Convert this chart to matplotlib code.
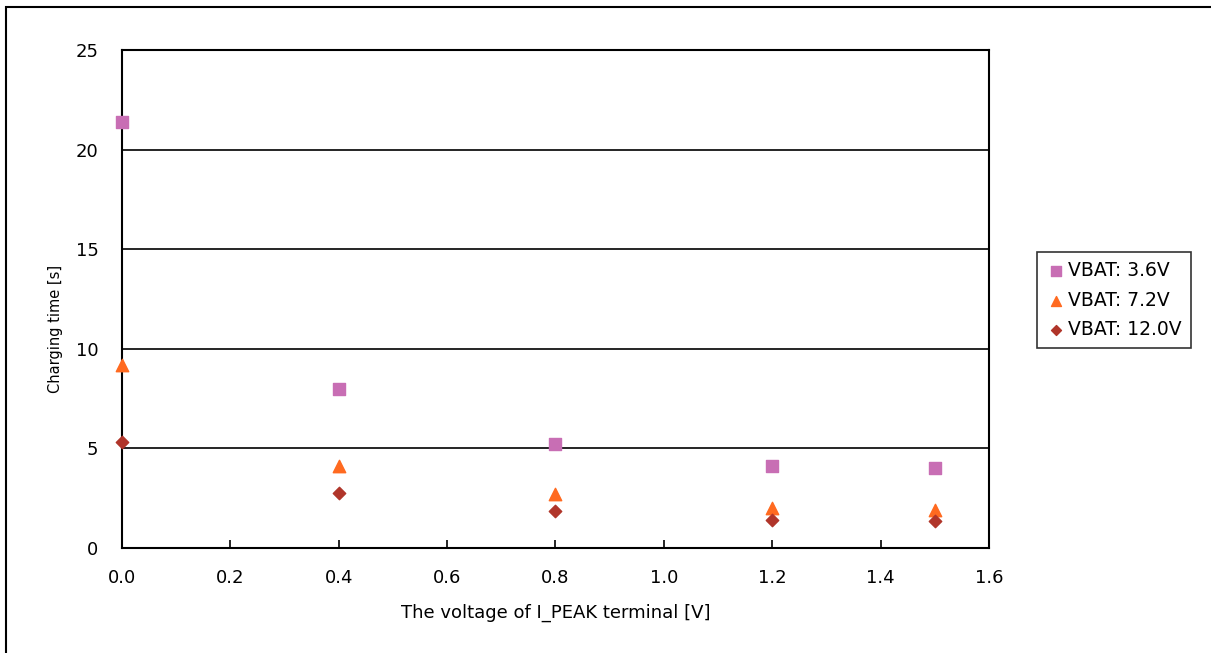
import numpy as np
import matplotlib.pyplot as plt
from matplotlib.patches import Rectangle

# data
x_vals = [0.0, 0.4, 0.8, 1.2, 1.5]
vbat_36 = [21.4, 8.0, 5.2, 4.1, 4.0]
vbat_72 = [9.2, 4.1, 2.7, 2.0, 1.9]
vbat_120 = [5.3, 2.75, 1.85, 1.4, 1.35]
labels = ['VBAT: 3.6V', 'VBAT: 7.2V', 'VBAT: 12.0V']

plt.rcParams['font.family'] = ['DejaVu Sans']

fig = plt.figure(figsize=(12.11, 6.53), dpi=100)
ax = fig.add_axes([122/1211, 1 - 548/653, (989-122)/1211, (548-50)/653])

ax.scatter(x_vals, vbat_36, marker='s', s=70, color='#C86EB4', label=labels[0], zorder=3, clip_on=False)
ax.scatter(x_vals, vbat_72, marker='^', s=80, color='#FF6A20', label=labels[1], zorder=3, clip_on=False)
ax.scatter(x_vals, vbat_120, marker='D', s=40, color='#B0352A', label=labels[2], zorder=3, clip_on=False)

ax.set_xlim(0, 1.6)
ax.set_ylim(0, 25)
ax.set_xticks(np.arange(0, 1.61, 0.2))
ax.set_xticklabels(['%.1f' % v for v in np.arange(0, 1.61, 0.2)])
ax.set_yticks(range(0, 26, 5))
ax.yaxis.grid(True, color='black', lw=1.2)
ax.set_axisbelow(True)
ax.tick_params(axis='x', direction='in', length=6, width=1.2, labelsize=13, pad=15)
ax.tick_params(axis='y', direction='in', length=0, labelsize=13, pad=17)
for sp in ax.spines.values():
    sp.set_linewidth(1.5)
    sp.set_color('black')

ax.set_xlabel('The voltage of I_PEAK terminal [V]', fontsize=13, labelpad=12)
ax.set_ylabel('Charging time [s]', fontsize=10.5)
ax.yaxis.set_label_coords(-0.068, 0.44)

leg = ax.legend(loc='center left', bbox_to_anchor=(1028/1211, 1 - 300/653),
                bbox_transform=fig.transFigure, fontsize=13.5, frameon=True,
                fancybox=False, edgecolor='black', handletextpad=0.15,
                borderpad=0.5, labelspacing=0.55, handlelength=1.0, markerscale=0.8)
leg.get_frame().set_linewidth(1.2)

# outer chart border (left/top visible, right/bottom cut off)
fig.patches.append(Rectangle((6/1211, -0.05), 1.2, 1 - 7/653 + 0.05, transform=fig.transFigure,
                             fill=False, edgecolor='black', lw=1.5))

fig.savefig('out.png', dpi=100)
